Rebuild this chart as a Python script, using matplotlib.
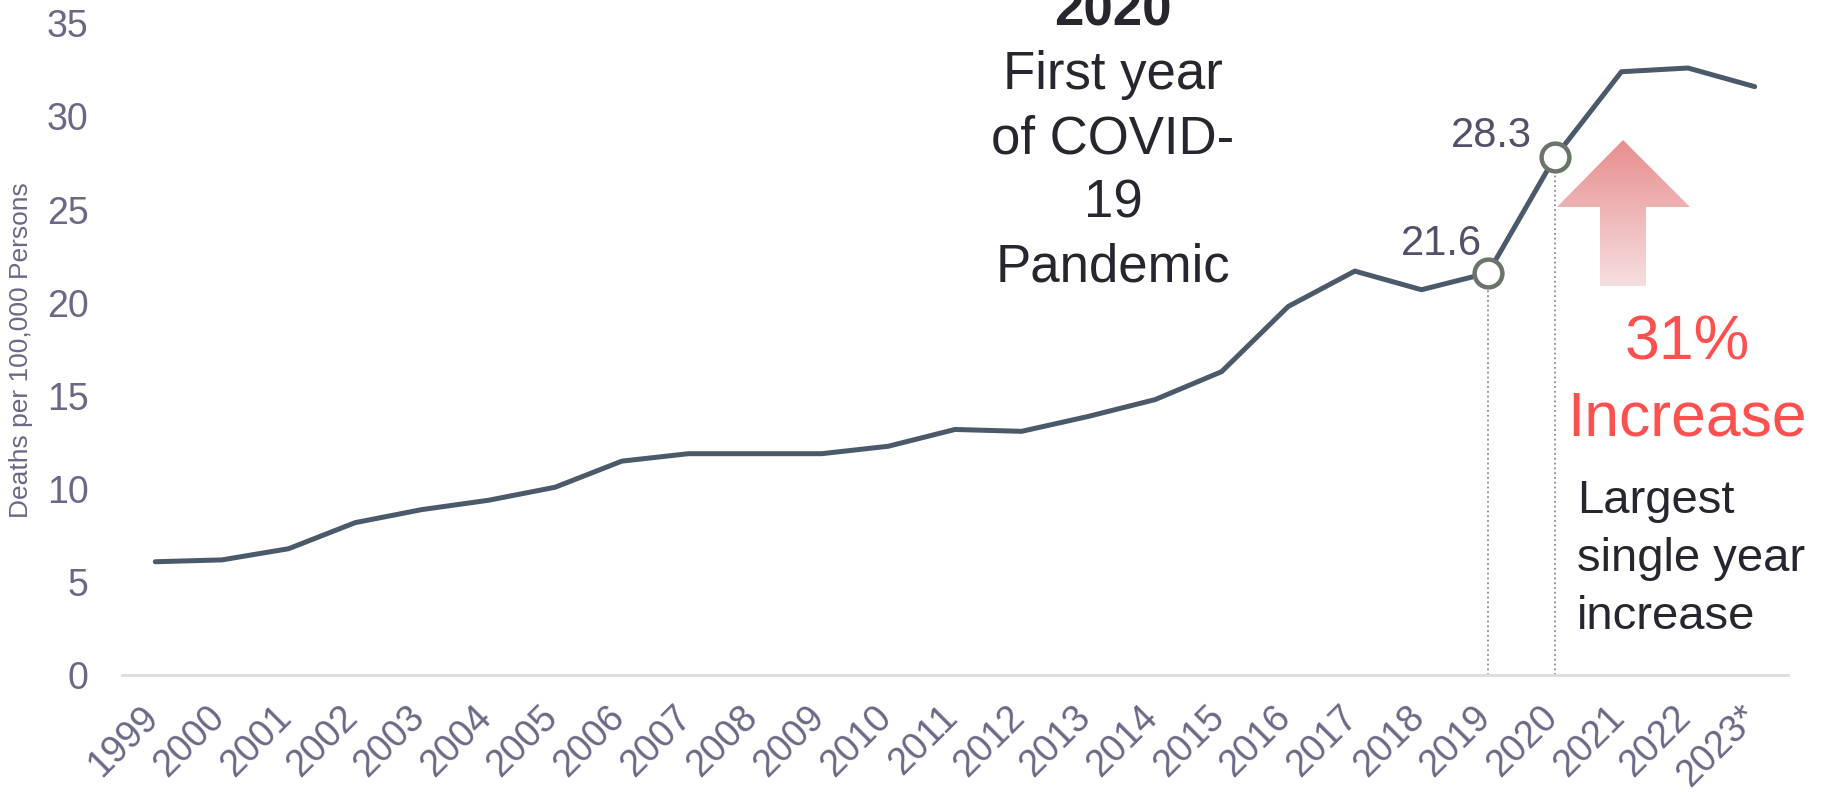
import numpy as np
import matplotlib
matplotlib.use("Agg")
import matplotlib.pyplot as plt
from matplotlib.patches import Polygon
from matplotlib.transforms import ScaledTranslation

plt.rcParams['font.family'] = ['Liberation Sans', 'DejaVu Sans']

years = ['1999', '2000', '2001', '2002', '2003', '2004', '2005', '2006', '2007',
         '2008', '2009', '2010', '2011', '2012', '2013', '2014', '2015', '2016',
         '2017', '2018', '2019', '2020', '2021', '2022', '2023*']
rate = [6.1, 6.2, 6.8, 8.2, 8.9, 9.4, 10.1, 11.5, 11.9,
        11.9, 11.9, 12.3, 13.2, 13.1, 13.9, 14.8, 16.3, 19.8,
        21.7, 20.7, 21.6, 27.8, 32.4, 32.6, 31.6]
highlight = ['2019', '2020']
highlight_labels = ['21.6', '28.3']
yticks = [0, 5, 10, 15, 20, 25, 30, 35]

W, H = 1826, 792
tick_col = '#696987'
line_col = '#4b5a6a'
dark = '#26262f'
red = '#ff5050'

fig = plt.figure(figsize=(W / 100, H / 100), dpi=100)
ax = fig.add_axes([122 / W, 1 - 675.4 / H, (1788 - 122) / W, (675.4 - 23.3) / H])

x = np.arange(len(years))
ax.plot(x, rate, color=line_col, lw=3.6, solid_capstyle='round', zorder=3)

hx = [years.index(h) for h in highlight]
hy = [rate[i] for i in hx]
ax.vlines(hx, 0, hy, colors='#8c8c8c', linestyles=':', lw=1.3, zorder=2)
ax.plot(hx, hy, 'o', ms=20, mfc='white', mec='#6b7468', mew=3.2, zorder=4)

ax.set_xlim(-0.5, len(years) - 0.5)
ax.set_ylim(0, 35)
ax.set_yticks(yticks)
ax.set_xticks(x)
ax.set_xticklabels(years, rotation=45, ha='right')
ax.tick_params(axis='y', length=0, pad=24, labelsize=27, labelcolor=tick_col)
ax.tick_params(axis='x', length=0, pad=17, labelsize=27, labelcolor=tick_col)
shift = ScaledTranslation(10 / 100, 0, fig.dpi_scale_trans)
for lbl in ax.get_xticklabels():
    lbl.set_transform(lbl.get_transform() + shift)
for s in ['top', 'right', 'left']:
    ax.spines[s].set_visible(False)
ax.spines['bottom'].set_color('#dcdce3')
ax.spines['bottom'].set_linewidth(2)

fig.text(21 / W, 1 - 350 / H, 'Deaths per 100,000 Persons', rotation=90,
         ha='center', va='center', fontsize=19, color=tick_col,
         family=['Liberation Sans Narrow', 'Liberation Sans'])

# overlay in pixel coordinates for annotations
ov = fig.add_axes([0, 0, 1, 1], zorder=5)
ov.set_xlim(0, W)
ov.set_ylim(H, 0)
ov.axis('off')
ov.patch.set_alpha(0)

ov.text(1113, 26, '2020', ha='center', va='baseline', fontsize=38,
        fontweight='bold', color=dark)
for txt, yb in zip(['First year', 'of COVID-', '19', 'Pandemic'], [89, 153, 217, 281]):
    ov.text(1113, yb, txt, ha='center', va='baseline', fontsize=38, color=dark)

ov.text(1482, 255, highlight_labels[0], ha='right', va='baseline', fontsize=30, color='#535069')
ov.text(1532, 147, highlight_labels[1], ha='right', va='baseline', fontsize=30, color='#535069')

ov.text(1687, 360, '31%', ha='center', va='baseline', fontsize=45, color=red)
ov.text(1687, 435, 'Increase', ha='center', va='baseline', fontsize=45, color=red)
for txt, yb in zip(['Largest', 'single year', 'increase'], [513, 571, 629]):
    ov.text(1577, yb, txt, ha='left', va='baseline', fontsize=34, color=dark)

# gradient arrow
verts = [(1623, 140), (1690, 207), (1646, 207), (1646, 286),
         (1600, 286), (1600, 207), (1557, 207)]
poly = Polygon(verts, closed=True, fc='none', ec='none')
ov.add_patch(poly)
top = np.array([232, 142, 142]) / 255
bot = np.array([246, 222, 224]) / 255
t = np.linspace(0, 1, 100)[:, None]
grad = (top * (1 - t) + bot * t)[:, None, :]
im = ov.imshow(grad, extent=[1557, 1690, 286, 140], aspect='auto', interpolation='bilinear')
im.set_clip_path(poly)
ov.set_xlim(0, W)
ov.set_ylim(H, 0)

fig.savefig('out.png', dpi=100)
